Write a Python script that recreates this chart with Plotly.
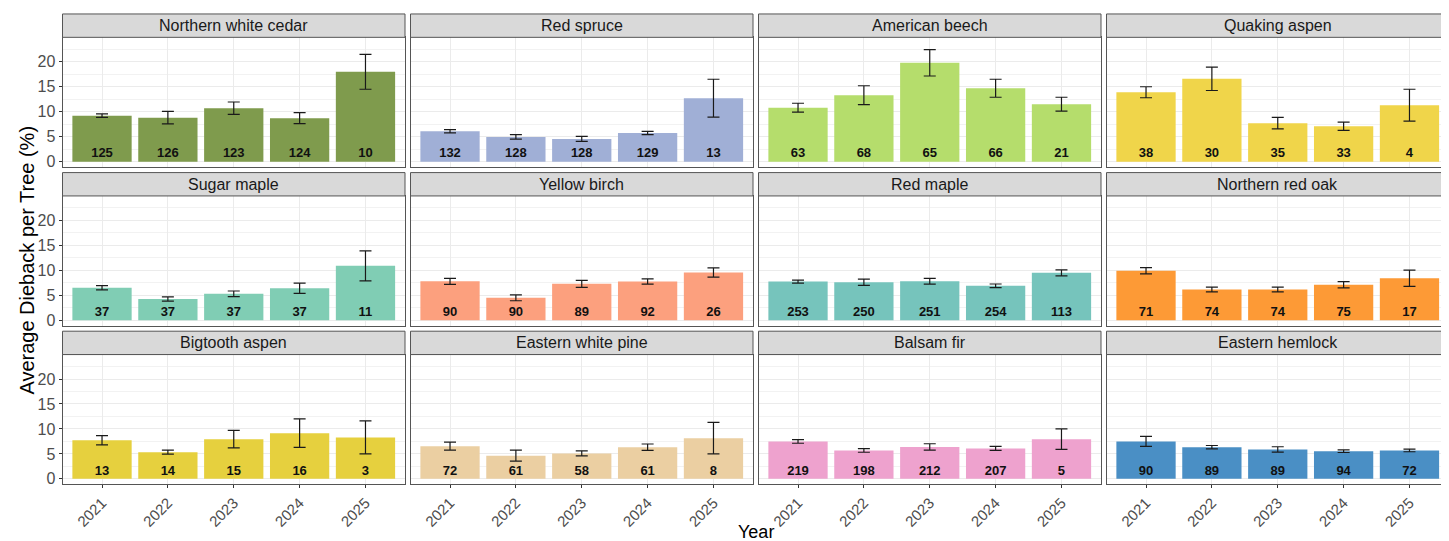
import plotly.graph_objects as go

years = ["2021", "2022", "2023", "2024", "2025"]

species = [
    "Northern white cedar", "Red spruce", "American beech", "Quaking aspen",
    "Sugar maple", "Yellow birch", "Red maple", "Northern red oak",
    "Bigtooth aspen", "Eastern white pine", "Balsam fir", "Eastern hemlock",
]

colors = [
    "#7F9B4D", "#A0AFD6", "#B5DD6C", "#F0D54A",
    "#80CDB4", "#FCA07E", "#76C4BC", "#FD9A36",
    "#E6D03E", "#EBCFA2", "#EEA2CE", "#4A8FC5",
]

mean_northern_white_cedar = [9.2, 8.8, 10.7, 8.7, 18.0]
mean_red_spruce = [6.1, 4.95, 4.55, 5.75, 12.7]
mean_american_beech = [10.8, 13.3, 19.8, 14.7, 11.5]
mean_quaking_aspen = [13.9, 16.6, 7.7, 7.1, 11.3]
mean_sugar_maple = [6.5, 4.25, 5.3, 6.4, 10.9]
mean_yellow_birch = [7.8, 4.5, 7.3, 7.75, 9.55]
mean_red_maple = [7.75, 7.6, 7.8, 6.9, 9.5]
mean_northern_red_oak = [9.9, 6.15, 6.15, 7.1, 8.4]
mean_bigtooth_aspen = [7.75, 5.35, 7.95, 9.15, 8.3]
mean_eastern_white_pine = [6.55, 4.65, 5.1, 6.35, 8.15]
mean_balsam_fir = [7.5, 5.7, 6.4, 6.1, 7.95]
mean_eastern_hemlock = [7.5, 6.35, 5.9, 5.55, 5.7]

se_northern_white_cedar = [0.35, 1.25, 1.25, 1.1, 3.5]
se_red_spruce = [0.33, 0.46, 0.5, 0.33, 3.8]
se_american_beech = [0.9, 1.9, 2.65, 1.8, 1.4]
se_quaking_aspen = [1.1, 2.35, 1.15, 0.83, 3.2]
se_sugar_maple = [0.43, 0.43, 0.56, 1.03, 3.0]
se_yellow_birch = [0.6, 0.6, 0.7, 0.53, 0.93]
se_red_maple = [0.3, 0.63, 0.57, 0.36, 0.6]
se_northern_red_oak = [0.63, 0.47, 0.47, 0.63, 1.62]
se_bigtooth_aspen = [0.93, 0.4, 1.75, 2.85, 3.3]
se_eastern_white_pine = [0.8, 1.1, 0.5, 0.63, 3.15]
se_balsam_fir = [0.37, 0.37, 0.63, 0.4, 2.05]
se_eastern_hemlock = [1.0, 0.33, 0.53, 0.27, 0.27]

n_northern_white_cedar = [125, 126, 123, 124, 10]
n_red_spruce = [132, 128, 128, 129, 13]
n_american_beech = [63, 68, 65, 66, 21]
n_quaking_aspen = [38, 30, 35, 33, 4]
n_sugar_maple = [37, 37, 37, 37, 11]
n_yellow_birch = [90, 90, 89, 92, 26]
n_red_maple = [253, 250, 251, 254, 113]
n_northern_red_oak = [71, 74, 74, 75, 17]
n_bigtooth_aspen = [13, 14, 15, 16, 3]
n_eastern_white_pine = [72, 61, 58, 61, 8]
n_balsam_fir = [219, 198, 212, 207, 5]
n_eastern_hemlock = [90, 89, 89, 94, 72]

means = [mean_northern_white_cedar, mean_red_spruce, mean_american_beech, mean_quaking_aspen,
         mean_sugar_maple, mean_yellow_birch, mean_red_maple, mean_northern_red_oak,
         mean_bigtooth_aspen, mean_eastern_white_pine, mean_balsam_fir, mean_eastern_hemlock]
ses = [se_northern_white_cedar, se_red_spruce, se_american_beech, se_quaking_aspen,
       se_sugar_maple, se_yellow_birch, se_red_maple, se_northern_red_oak,
       se_bigtooth_aspen, se_eastern_white_pine, se_balsam_fir, se_eastern_hemlock]
counts = [n_northern_white_cedar, n_red_spruce, n_american_beech, n_quaking_aspen,
          n_sugar_maple, n_yellow_birch, n_red_maple, n_northern_red_oak,
          n_bigtooth_aspen, n_eastern_white_pine, n_balsam_fir, n_eastern_hemlock]

y_ticks = [0, 5, 10, 15, 20]

W, H = 1449, 541
FONT = "Liberation Sans, Arial, Helvetica, sans-serif"
BORDER = "#555555"

fig = go.Figure()
layout = dict(
    width=W, height=H, margin=dict(l=0, r=0, t=0, b=0),
    paper_bgcolor="white", plot_bgcolor="white", showlegend=False,
    font=dict(family=FONT),
)
shapes = []
annotations = []

for i, sp in enumerate(species):
    r, c = divmod(i, 4)
    k = i + 1
    xname = "x" if k == 1 else f"x{k}"
    yname = "y" if k == 1 else f"y{k}"
    left = 54.5 + c * 348
    right = left + 342.5
    ptop = 29.5 + r * 159.5
    pbot = 160 + r * 159.5
    stop = 6 + r * 159.5
    xd = [left / W, right / W]
    yd = [1 - pbot / H, 1 - ptop / H]

    fig.add_trace(go.Bar(
        x=years, y=means[i], xaxis=xname, yaxis=yname,
        marker=dict(color=colors[i], line=dict(width=0)), width=0.9,
        error_y=dict(type="data", array=ses[i], visible=True,
                     color="#1A1A1A", thickness=1.2, width=6),
        hoverinfo="y",
    ))
    fig.add_trace(go.Scatter(
        x=years, y=[1.5] * 5, xaxis=xname, yaxis=yname, mode="text",
        text=[f"<b>{v}</b>" for v in counts[i]],
        textfont=dict(size=13, color="#111111", family=FONT),
        hoverinfo="skip",
    ))

    axx = dict(
        domain=xd, anchor=yname, type="category", range=[-0.6, 4.6],
        showgrid=True, gridcolor="#EBEBEB", gridwidth=1,
        showline=True, mirror=True, linecolor=BORDER, linewidth=1,
        showticklabels=(r == 2), ticks="outside" if r == 2 else "",
        ticklen=3, tickcolor="#333333", tickangle=-45,
        tickfont=dict(size=15, color="#4D4D4D", family=FONT),
        zeroline=False, fixedrange=True,
    )
    axy = dict(
        domain=yd, anchor=xname, range=[-1.1, 24.9],
        tickmode="array", tickvals=y_ticks,
        showgrid=True, gridcolor="#EBEBEB", gridwidth=1,
        minor=dict(tickmode="array", tickvals=[2.5, 7.5, 12.5, 17.5, 22.5],
                   showgrid=True, gridcolor="#F2F2F2", gridwidth=0.6, ticks=""),
        showline=True, mirror=True, linecolor=BORDER, linewidth=1,
        showticklabels=(c == 0), ticks="outside" if c == 0 else "",
        ticklen=3, tickcolor="#333333",
        tickfont=dict(size=16, color="#4D4D4D", family=FONT),
        zeroline=False, fixedrange=True,
    )
    layout["xaxis" if k == 1 else f"xaxis{k}"] = axx
    layout["yaxis" if k == 1 else f"yaxis{k}"] = axy

    shapes.append(dict(
        type="rect", xref="paper", yref="paper",
        x0=xd[0], x1=xd[1], y0=1 - ptop / H, y1=1 - stop / H,
        fillcolor="#D9D9D9", line=dict(color=BORDER, width=1), layer="above",
    ))
    annotations.append(dict(
        text=sp, xref="paper", yref="paper",
        x=(xd[0] + xd[1]) / 2, y=1 - (stop + ptop) / 2 / H,
        xanchor="center", yanchor="middle", showarrow=False,
        font=dict(size=16, color="#1A1A1A", family=FONT),
    ))

annotations.append(dict(
    text="Average Dieback per Tree (%)", xref="paper", yref="paper",
    x=19 / W, y=1 - 254 / H, textangle=-90, showarrow=False,
    xanchor="center", yanchor="middle",
    font=dict(size=20, color="#000000", family=FONT),
))
annotations.append(dict(
    text="Year", xref="paper", yref="paper",
    x=748 / W, y=1 - 527 / H, showarrow=False,
    xanchor="center", yanchor="middle",
    font=dict(size=18, color="#000000", family=FONT),
))

layout["shapes"] = shapes
layout["annotations"] = annotations
fig.update_layout(**layout)
fig.write_html("out.html")
